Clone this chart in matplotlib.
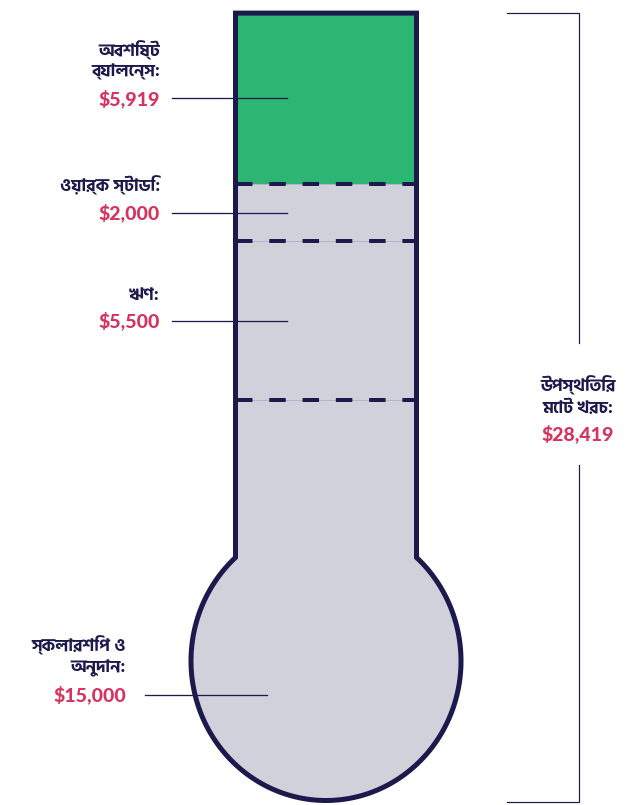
import unicodedata
import numpy as np
import matplotlib
matplotlib.use("Agg")
import matplotlib.pyplot as plt
from matplotlib.path import Path
from matplotlib.patches import PathPatch

# ---------------- data ----------------
categories = ["স্কলারশিপ ও\nঅনুদান:", "ঋণ:", "ওয়ার্ক স্টাডি:", "অবশিষ্ট\nব্যালেন্স:"]
values = [15000, 5500, 2000, 5919]
value_labels = ["$15,000", "$5,500", "$2,000", "$5,919"]
total_label = "উপস্থিতির\nমোট খরচ:"
total_value_label = "$28,419"

# ---------------- style ----------------
NAVY = "#1c1a4c"
CRIMSON = "#d6345f"
GREEN = "#2db673"
GRAY = "#d1d1dc"
BENG = ["Hind Siliguri", "Noto Sans Bengali", "Lato", "DejaVu Sans"]
NUMF = ["Lato", "DejaVu Sans"]
plt.rcParams["font.family"] = BENG


def nfd(s):
    # canonically equivalent decomposed form (renders without shaping engine)
    return unicodedata.normalize("NFD", s)


W, H = 638, 805
fig = plt.figure(figsize=(W / 100, H / 100), dpi=100)
ax = fig.add_axes([0, 0, 1, 1])
ax.set_axis_off()

# vertical scale: dollars (pixel rows mapped linearly)
dpp = 34.698            # dollars per pixel
d_top = 28943.0 - 2 * dpp  # dollars at top edge of figure
ax.set_xlim(0, W)
ax.set_ylim(d_top - H * dpp, d_top)


def px2d(y):
    return d_top - np.asarray(y) * dpp


PT = 0.72  # points per pixel

total = sum(values)
cum = np.cumsum([0] + values)   # boundaries from bottom

# ---------------- thermometer shape ----------------
xl, xr = 235.5, 416.5
cx, cy, rx, ry = 326.0, 661.0, 135.0, 139.5
a = np.arccos((cx - xl) / rx)
theta = np.linspace(-a, np.pi + a, 200)
arc_x = cx + rx * np.cos(theta)
arc_y = px2d(cy + ry * np.sin(theta))
verts = [(xl, arc_y[-1]), (xl, total), (xr, total), (xr, arc_y[0])]
verts += list(zip(arc_x, arc_y))
verts.append(verts[0])
codes = [Path.MOVETO] + [Path.LINETO] * (len(verts) - 2) + [Path.CLOSEPOLY]
shape = Path(verts, codes)
ax.add_patch(PathPatch(shape, facecolor=GRAY, edgecolor="none", zorder=1))

# green remaining balance segment
ax.bar(cx, values[3], bottom=cum[3], width=xr - xl, color=GREEN, zorder=2, linewidth=0)

# dashed boundaries
for b in cum[1:4]:
    ax.plot([xl, xr], [b, b], color="#b4b4c6", lw=1 * PT, zorder=3)
    ax.plot([xl, xr], [b, b], color=NAVY, lw=4 * PT, zorder=4,
            linestyle=(0, (4.12, 4.2)), solid_capstyle="butt", dash_capstyle="butt")

ax.add_patch(PathPatch(shape, facecolor="none", edgecolor=NAVY, lw=5 * PT,
                       joinstyle="miter", zorder=5))

# ---------------- labels ----------------
def label(text, value, y_d, x_text, x0, x1):
    ax.plot([x0, x1], [y_d, y_d], color=NAVY, lw=1.3 * PT, zorder=6)
    ax.text(x_text, y_d, value, ha="right", va="center", color=CRIMSON,
            fontsize=14, fontweight=900, family=NUMF)
    ax.text(x_text, y_d + 18 * dpp, nfd(text), ha="right", va="bottom", color=NAVY,
            fontsize=12.5, fontweight="bold", linespacing=1.35)

for i in (1, 2, 3):
    mid = cum[i] + values[i] / 2
    label(categories[i], value_labels[i], mid, 160, 172, 287)

label(categories[0], value_labels[0], px2d(695), 126, 145, 267)

# total bracket
bx = 579
ax.plot([507, bx, bx], [total, total, px2d(343)], color=NAVY, lw=1.2 * PT, zorder=6)
ax.plot([bx, bx, 507], [px2d(465), px2d(802), px2d(802)], color=NAVY, lw=1.2 * PT, zorder=6)
ax.text(578, px2d(434), total_value_label, ha="center", va="center", color=CRIMSON,
        fontsize=14, fontweight=900, family=NUMF)
ax.text(578, px2d(416), nfd(total_label), ha="center", va="bottom", color=NAVY,
        fontsize=12.5, fontweight="bold", linespacing=1.35)

fig.savefig("out.png", dpi=100)
